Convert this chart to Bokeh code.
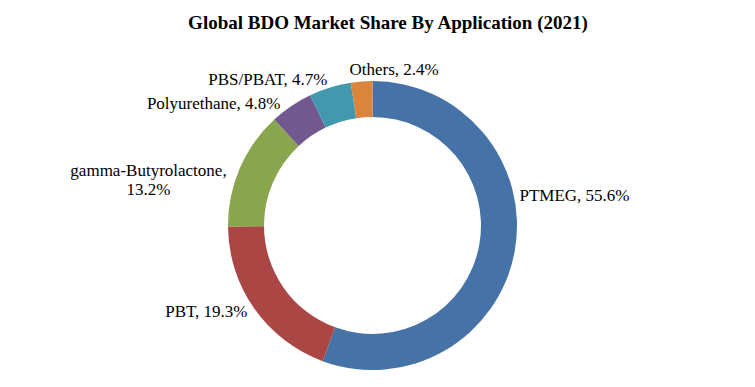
import math
from bokeh.plotting import figure
from bokeh.models import Range1d, ColumnDataSource
from bokeh.core.properties import value
from bokeh.embed import file_html
from bokeh.resources import INLINE

# ---- data ----
categories = ["PTMEG", "PBT", "gamma-Butyrolactone", "Polyurethane", "PBS/PBAT", "Others"]
shares = [55.6, 19.3, 13.2, 4.8, 4.7, 2.4]
colors = ["#4572A7", "#AA4643", "#89A54E", "#71588F", "#4198AF", "#DB843D"]
title_text = "Global BDO Market Share By Application (2021)"

# ---- layout (pixels) ----
W, H = 739, 371
CX, CY = 372, 225          # donut centre in pixels (y down)
R_OUT, R_IN = 144.5, 108.5

def py(y):  # convert y-down pixel coordinate to data y
    return H - y

p = figure(width=W, height=H, output_backend="svg", toolbar_location=None,
           x_range=Range1d(0, W), y_range=Range1d(0, H),
           x_axis_location=None, y_axis_location=None, min_border=0,
           background_fill_color="white", border_fill_color="white")
p.outline_line_color = None
p.grid.visible = False

total = sum(shares)
starts, ends = [], []
cum = 0.0
for s in shares:
    a0 = math.pi / 2 - 2 * math.pi * cum / total
    cum += s
    a1 = math.pi / 2 - 2 * math.pi * cum / total
    starts.append(a0)
    ends.append(a1)

src = ColumnDataSource(dict(x=[CX] * len(shares), y=[py(CY)] * len(shares),
                            start=starts, end=ends, color=colors))
p.annular_wedge(x="x", y="y", inner_radius=R_IN, outer_radius=R_OUT,
                start_angle="start", end_angle="end", direction="clock",
                fill_color="color", line_color=None, source=src)

font = value("Liberation Serif")

# data labels: (x, y, align) in pixels, y down
label_texts = [f"{c}, {v}%" for c, v in zip(categories, shares)]
label_pos = [
    (519, 195, "left"),
    (247, 311, "right"),
    (None, None, None),
    (280, 103, "right"),
    (327, 79, "right"),
    (349, 69, "left"),
]
for t, (x, y, al) in zip(label_texts, label_pos):
    if x is None:
        continue
    p.text(x=[x], y=[py(y)], text=[t], text_font=font, text_font_size="17px",
           text_align=al, text_baseline="middle", text_color="black")

# gamma-Butyrolactone label on two lines
g_cat, g_val = categories[2], shares[2]
p.text(x=[148, 148], y=[py(170), py(189)], text=[g_cat + ",", f"{g_val}%"],
       text_font=font, text_font_size="17px", text_align="center",
       text_baseline="middle", text_color="black")

p.text(x=[388], y=[py(22)], text=[title_text], text_font=font,
       text_font_size="19px", text_font_style="bold", text_align="center",
       text_baseline="middle", text_color="black")

open("out.html", "w").write(file_html(p, INLINE))
